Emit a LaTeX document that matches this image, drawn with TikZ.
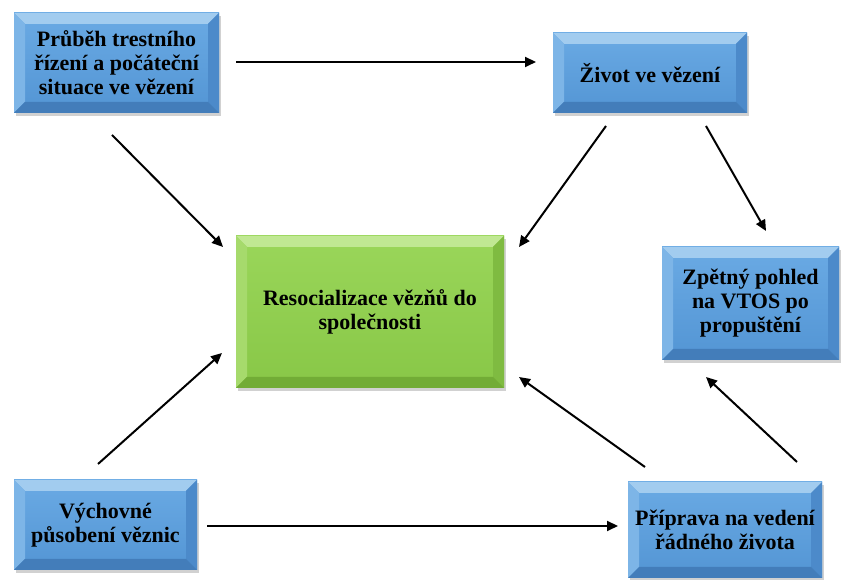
\documentclass[tikz,border=0pt]{standalone}
\usepackage{fontspec}
\setmainfont{Liberation Serif}
\usetikzlibrary{arrows.meta,shadows}
\definecolor{bface1}{HTML}{6AAAE4}
\definecolor{bface2}{HTML}{5395D4}
\definecolor{btop}{HTML}{A2CCEF}
\definecolor{bleft}{HTML}{7DB5E7}
\definecolor{bright}{HTML}{4C8ACA}
\definecolor{bbot}{HTML}{437DBA}
\definecolor{gface1}{HTML}{9AD65A}
\definecolor{gface2}{HTML}{88C747}
\definecolor{gtop}{HTML}{C0E893}
\definecolor{gleft}{HTML}{A6DA6C}
\definecolor{gright}{HTML}{7FBB41}
\definecolor{gbot}{HTML}{72AC36}
\newcommand{\bevelw}{11pt}
\tikzset{
  bevelbox/.style n args={6}{
    rectangle, inner sep=0pt, align=center,
    font=\fontsize{22}{24}\selectfont\bfseries,
    top color=#1, bottom color=#2,
    drop shadow={shadow xshift=1.5pt,shadow yshift=-3pt,opacity=0.3,fill=black!60},
    path picture={
      \coordinate (pnw) at (path picture bounding box.north west);
      \coordinate (pne) at (path picture bounding box.north east);
      \coordinate (psw) at (path picture bounding box.south west);
      \coordinate (pse) at (path picture bounding box.south east);
      \fill[#3] (pnw) -- (pne) -- ([xshift=-\bevelw,yshift=-\bevelw]pne) -- ([xshift=\bevelw,yshift=-\bevelw]pnw) -- cycle;
      \fill[#4] (pnw) -- (psw) -- ([xshift=\bevelw,yshift=\bevelw]psw) -- ([xshift=\bevelw,yshift=-\bevelw]pnw) -- cycle;
      \fill[#5] (pne) -- (pse) -- ([xshift=-\bevelw,yshift=\bevelw]pse) -- ([xshift=-\bevelw,yshift=-\bevelw]pne) -- cycle;
      \fill[#6] (psw) -- (pse) -- ([xshift=-\bevelw,yshift=\bevelw]pse) -- ([xshift=\bevelw,yshift=\bevelw]psw) -- cycle;
    }
  },
  bluebox/.style={bevelbox={bface1}{bface2}{btop}{bleft}{bright}{bbot}},
  greenbox/.style={bevelbox={gface1}{gface2}{gtop}{gleft}{gright}{gbot}},
  conn/.style={line width=2pt, -{Triangle[length=11pt,width=10pt]}}
}
\begin{document}
\begin{tikzpicture}[x=1pt,y=1pt]
\useasboundingbox (0,0) rectangle (841,580);
% boxes (y = 580 - pixel y)
\node[bluebox, minimum width=205pt, minimum height=100pt] (b1) at (116.5,517) {Průběh trestního\\řízení a počáteční\\situace ve vězení};
\node[bluebox, minimum width=194pt, minimum height=80pt] (b2) at (650,507) {Život ve vězení};
\node[greenbox, minimum width=268pt, minimum height=152pt] (b3) at (370,268) {Resocializace vězňů do\\společnosti};
\node[bluebox, minimum width=177pt, minimum height=113pt] (b4) at (750.5,276.5) {Zpětný pohled\\na VTOS po\\propuštění};
\node[bluebox, minimum width=183pt, minimum height=90pt] (b5) at (105.5,55) {Výchovné\\působení věznic};
\node[bluebox, minimum width=194pt, minimum height=96pt] (b6) at (725,50) {Příprava na vedení\\řádného života};
% arrow end points
\coordinate (a1s) at (236,518);
\coordinate (a1e) at (536,518);
\coordinate (a2s) at (112,445);
\coordinate (a2e) at (223,333);
\coordinate (a3s) at (606,454);
\coordinate (a3e) at (519,333);
\coordinate (a4s) at (706,454);
\coordinate (a4e) at (766,349);
\coordinate (a5s) at (98,116);
\coordinate (a5e) at (222,227);
\coordinate (a6s) at (207,54);
\coordinate (a6e) at (618,54);
\coordinate (a7s) at (645,113);
\coordinate (a7e) at (519,203);
\coordinate (a8s) at (797,118);
\coordinate (a8e) at (706,203);
\draw[conn] (a1s) -- (a1e);
\draw[conn] (a2s) -- (a2e);
\draw[conn] (a3s) -- (a3e);
\draw[conn] (a4s) -- (a4e);
\draw[conn] (a5s) -- (a5e);
\draw[conn] (a6s) -- (a6e);
\draw[conn] (a7s) -- (a7e);
\draw[conn] (a8s) -- (a8e);
\end{tikzpicture}
\end{document}
